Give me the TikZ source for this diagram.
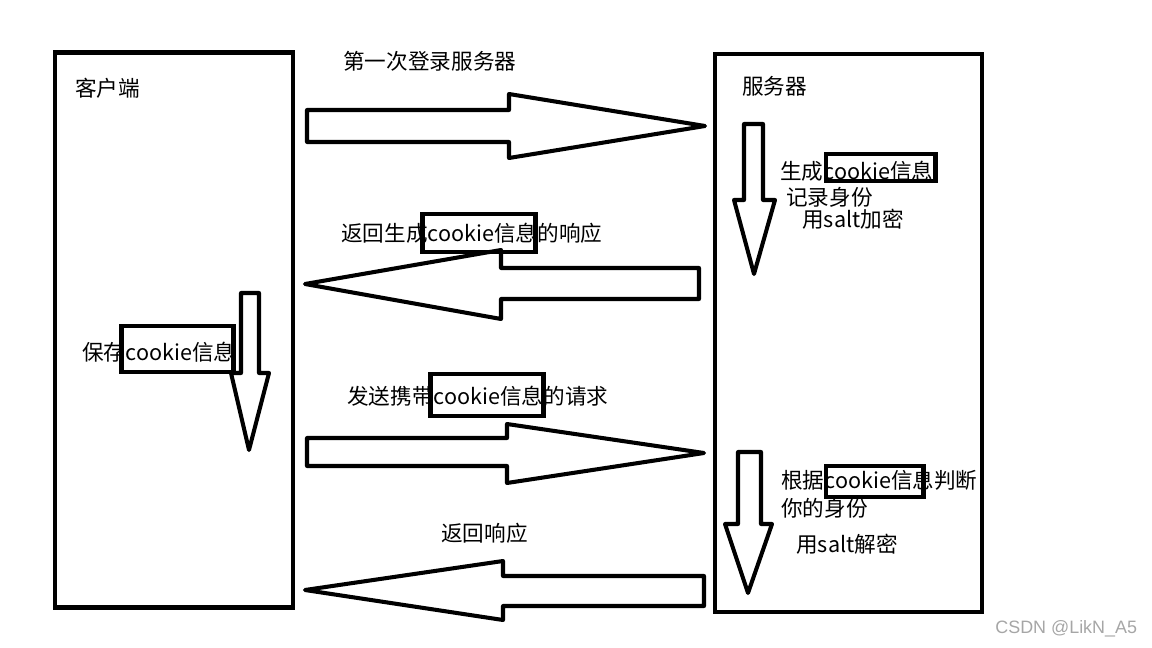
\documentclass[tikz,border=0pt]{standalone}
\usepackage{fontspec}
\setmainfont{Noto Sans CJK SC}
\newfontfamily\wmfont{Liberation Sans}
\usetikzlibrary{positioning}
\tikzset{
  panel/.style={draw, line width=2.5pt, inner sep=0pt},
  fatarrow/.style={draw, line width=2.3pt, line join=round},
  lbl/.style={anchor=west, inner sep=0pt, font=\fontsize{12.3}{14}\selectfont},
  hl/.style={draw, line width=2.3pt, inner sep=0pt},
}

\begin{document}
\begin{tikzpicture}[x=0.02cm, y=-0.02cm]
    \useasboundingbox (0,0) rectangle (1152,648);
    % the two sides
    \node[panel, minimum width=4.76cm, minimum height=11.1cm] (client) at (174,330) {};
    \node[panel, minimum width=5.33cm, minimum height=11.17cm] (server) at (848.5,333) {};
    \node[lbl] (clname) at (75,88) {客户端};
    \node[lbl] (svname) at (742,86) {服务器};
    % requests and responses
    \draw[fatarrow] (307,110) -- (509,110) -- (509,94) -- (705,126) -- (509,158) -- (509,142) -- (307,142) -- cycle;
    \draw[fatarrow] (699,268) -- (501,268) -- (501,250) -- (305,284) -- (501,319) -- (501,299) -- (699,299) -- cycle;
    \draw[fatarrow] (307,438) -- (507,438) -- (507,424) -- (704,453) -- (507,483) -- (507,466) -- (307,466) -- cycle;
    \draw[fatarrow] (704,576) -- (503,576) -- (503,561) -- (305,590) -- (503,620) -- (503,606) -- (704,606) -- cycle;
    \node[lbl] (msg1) at (343,61) {第一次登录服务器};
    \node[lbl] (msg2) at (341,233) {返回生成cookie信息的响应};
    \node[lbl] (msg3) at (347,396) {发送携带cookie信息的请求};
    \node[lbl] (msg4) at (441,533) {返回响应};
    % steps on each side
    \draw[fatarrow] (744,124) -- (763,124) -- (763,200) -- (775,200) -- (754,274) -- (734,200) -- (744,200) -- cycle;
    \draw[fatarrow] (738,452) -- (761,452) -- (761,524) -- (772,524) -- (748,593) -- (725,524) -- (738,524) -- cycle;
    \draw[fatarrow] (241,293) -- (259,293) -- (259,373) -- (269,373) -- (249,450) -- (231,373) -- (241,373) -- cycle;
    \node[lbl] (gen) at (780,171) {生成cookie信息};
    \node[lbl] (rec) at (786,197) {记录身份};
    \node[lbl] (enc) at (802,219) {用salt加密};
    \node[lbl] (chk) at (781,480) {根据cookie信息判断};
    \node[lbl] (who) at (781,508) {你的身份};
    \node[lbl] (dec) at (796,544) {用salt解密};
    \node[lbl] (save) at (82,352) {保存cookie信息};
    % boxes round cookie
    \node[hl, minimum width=2.26cm, minimum height=0.76cm] (ck1) at (479,233) {};
    \node[hl, minimum width=2.26cm, minimum height=0.84cm] (ck2) at (487,395) {};
    \node[hl, minimum width=2.2cm, minimum height=0.54cm] (ck3) at (880.5,167.5) {};
    \node[hl, minimum width=1.96cm, minimum height=0.62cm] (ck4) at (874.5,481.5) {};
    \node[hl, minimum width=2.24cm, minimum height=0.92cm] (ck5) at (177.5,349) {};
    \node[anchor=west, inner sep=0pt, text=black!35, font=\wmfont\fontsize{10.2}{12}\selectfont] (mark) at (995,629) {CSDN @LikN\_A5};
\end{tikzpicture}
\end{document}
